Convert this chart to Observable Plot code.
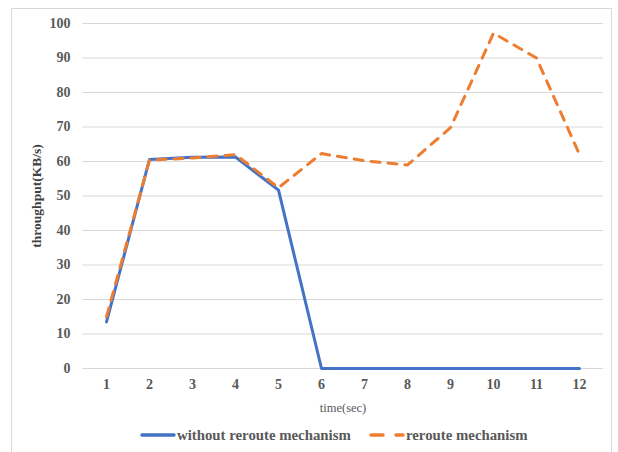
<!DOCTYPE html>
<html>
<head>
<meta charset="utf-8">
<script src="https://cdn.jsdelivr.net/npm/d3@7"></script>
<script src="https://cdn.jsdelivr.net/npm/@observablehq/plot@0.6"></script>
<style>
  html, body { margin: 0; padding: 0; background: #fff; }
  #wrap { position: relative; width: 618px; height: 452px; overflow: hidden; font-family: "Liberation Serif", "DejaVu Serif", serif; }
  #frame { position: absolute; left: 11px; top: 8px; width: 601px; height: 460px; border: 1.5px solid #d9d9d9; box-sizing: border-box; }
  #chart { position: absolute; left: 0; top: 0; }
  #chart svg, #chart svg text { font-family: "Liberation Serif", "DejaVu Serif", serif !important; }
  #chart svg g[aria-label="y-axis label"] text { font-weight: bold; font-size: 13.5px; fill: #404040; }
  #chart svg g[aria-label="x-axis label"] text { font-size: 12.5px; fill: #595959; }
  #chart svg g[aria-label="x-axis tick label"] text,
  #chart svg g[aria-label="y-axis tick label"] text { font-weight: bold; font-size: 14px; fill: #595959; }
  #legend { position: absolute; left: 0; top: 426px; width: 618px; height: 20px; }
  #legend .item { position: absolute; top: 0; display: flex; align-items: center; font-family: "Liberation Serif", "DejaVu Serif", serif; font-weight: bold; font-size: 14.8px; color: #595959; }
</style>
</head>
<body>
<div id="wrap">
  <div id="frame"></div>
  <div id="chart"></div>
  <div id="legend"></div>
</div>
<script>
// time (sec) on the horizontal axis
const times = [1, 2, 3, 4, 5, 6, 7, 8, 9, 10, 11, 12];
// throughput (KB/s) for each series
const withoutReroute = [13.5, 60.6, 61.2, 61.3, 51.7, 0, 0, 0, 0, 0, 0, 0];
const withReroute = [15, 60.4, 61.0, 62.0, 52.4, 62.3, 60.2, 59.0, 69.8, 97.2, 90.0, 62.0];
const yTicks = [0, 10, 20, 30, 40, 50, 60, 70, 80, 90, 100];

const seriesNames = ["without reroute mechanism", "reroute mechanism"];
const blue = "#4472c4";
const orange = "#ed7d31";

const rowsA = times.map((t, i) => ({t, v: withoutReroute[i]}));
const rowsB = times.map((t, i) => ({t, v: withReroute[i]}));

const chart = Plot.plot({
  width: 618,
  height: 420,
  marginTop: 23,
  marginBottom: 52,
  marginLeft: 82,
  marginRight: 15,
  style: { background: "transparent" },
  x: {
    type: "point", domain: times, padding: 0.5,
    label: "time(sec)", labelAnchor: "center", labelOffset: 43, labelArrow: "none",
    tickSize: 0, tickPadding: 11
  },
  y: {
    domain: [0, 100], ticks: yTicks,
    label: "throughput(KB/s)", labelAnchor: "center", labelOffset: 51, labelArrow: "none",
    tickSize: 0, tickPadding: 12
  },
  marks: [
    Plot.ruleY(yTicks, {stroke: "#d9d9d9", strokeWidth: 1.2}),
    Plot.line(rowsA, {x: "t", y: "v", stroke: blue, strokeWidth: 3, strokeLinejoin: "round", strokeLinecap: "round"}),
    Plot.line(rowsB, {x: "t", y: "v", stroke: orange, strokeWidth: 3, strokeDasharray: "9,8", strokeLinecap: "round", strokeLinejoin: "round"})
  ]
});
document.getElementById("chart").appendChild(chart);

// legend below the plot
const legend = d3.select("#legend");
const items = [
  {name: seriesNames[0], color: blue, dash: null, left: 140},
  {name: seriesNames[1], color: orange, dash: "12,13", left: 369}
];
for (const it of items) {
  const div = legend.append("div").attr("class", "item").style("left", it.left + "px");
  const s = div.append("svg").attr("width", 37).attr("height", 18);
  s.append("line").attr("x1", 2).attr("x2", 34).attr("y1", 9).attr("y2", 9)
    .attr("stroke", it.color).attr("stroke-width", 3.5).attr("stroke-linecap", "round")
    .attr("stroke-dasharray", it.dash);
  div.append("span").text(it.name);
}
</script>
</body>
</html>
